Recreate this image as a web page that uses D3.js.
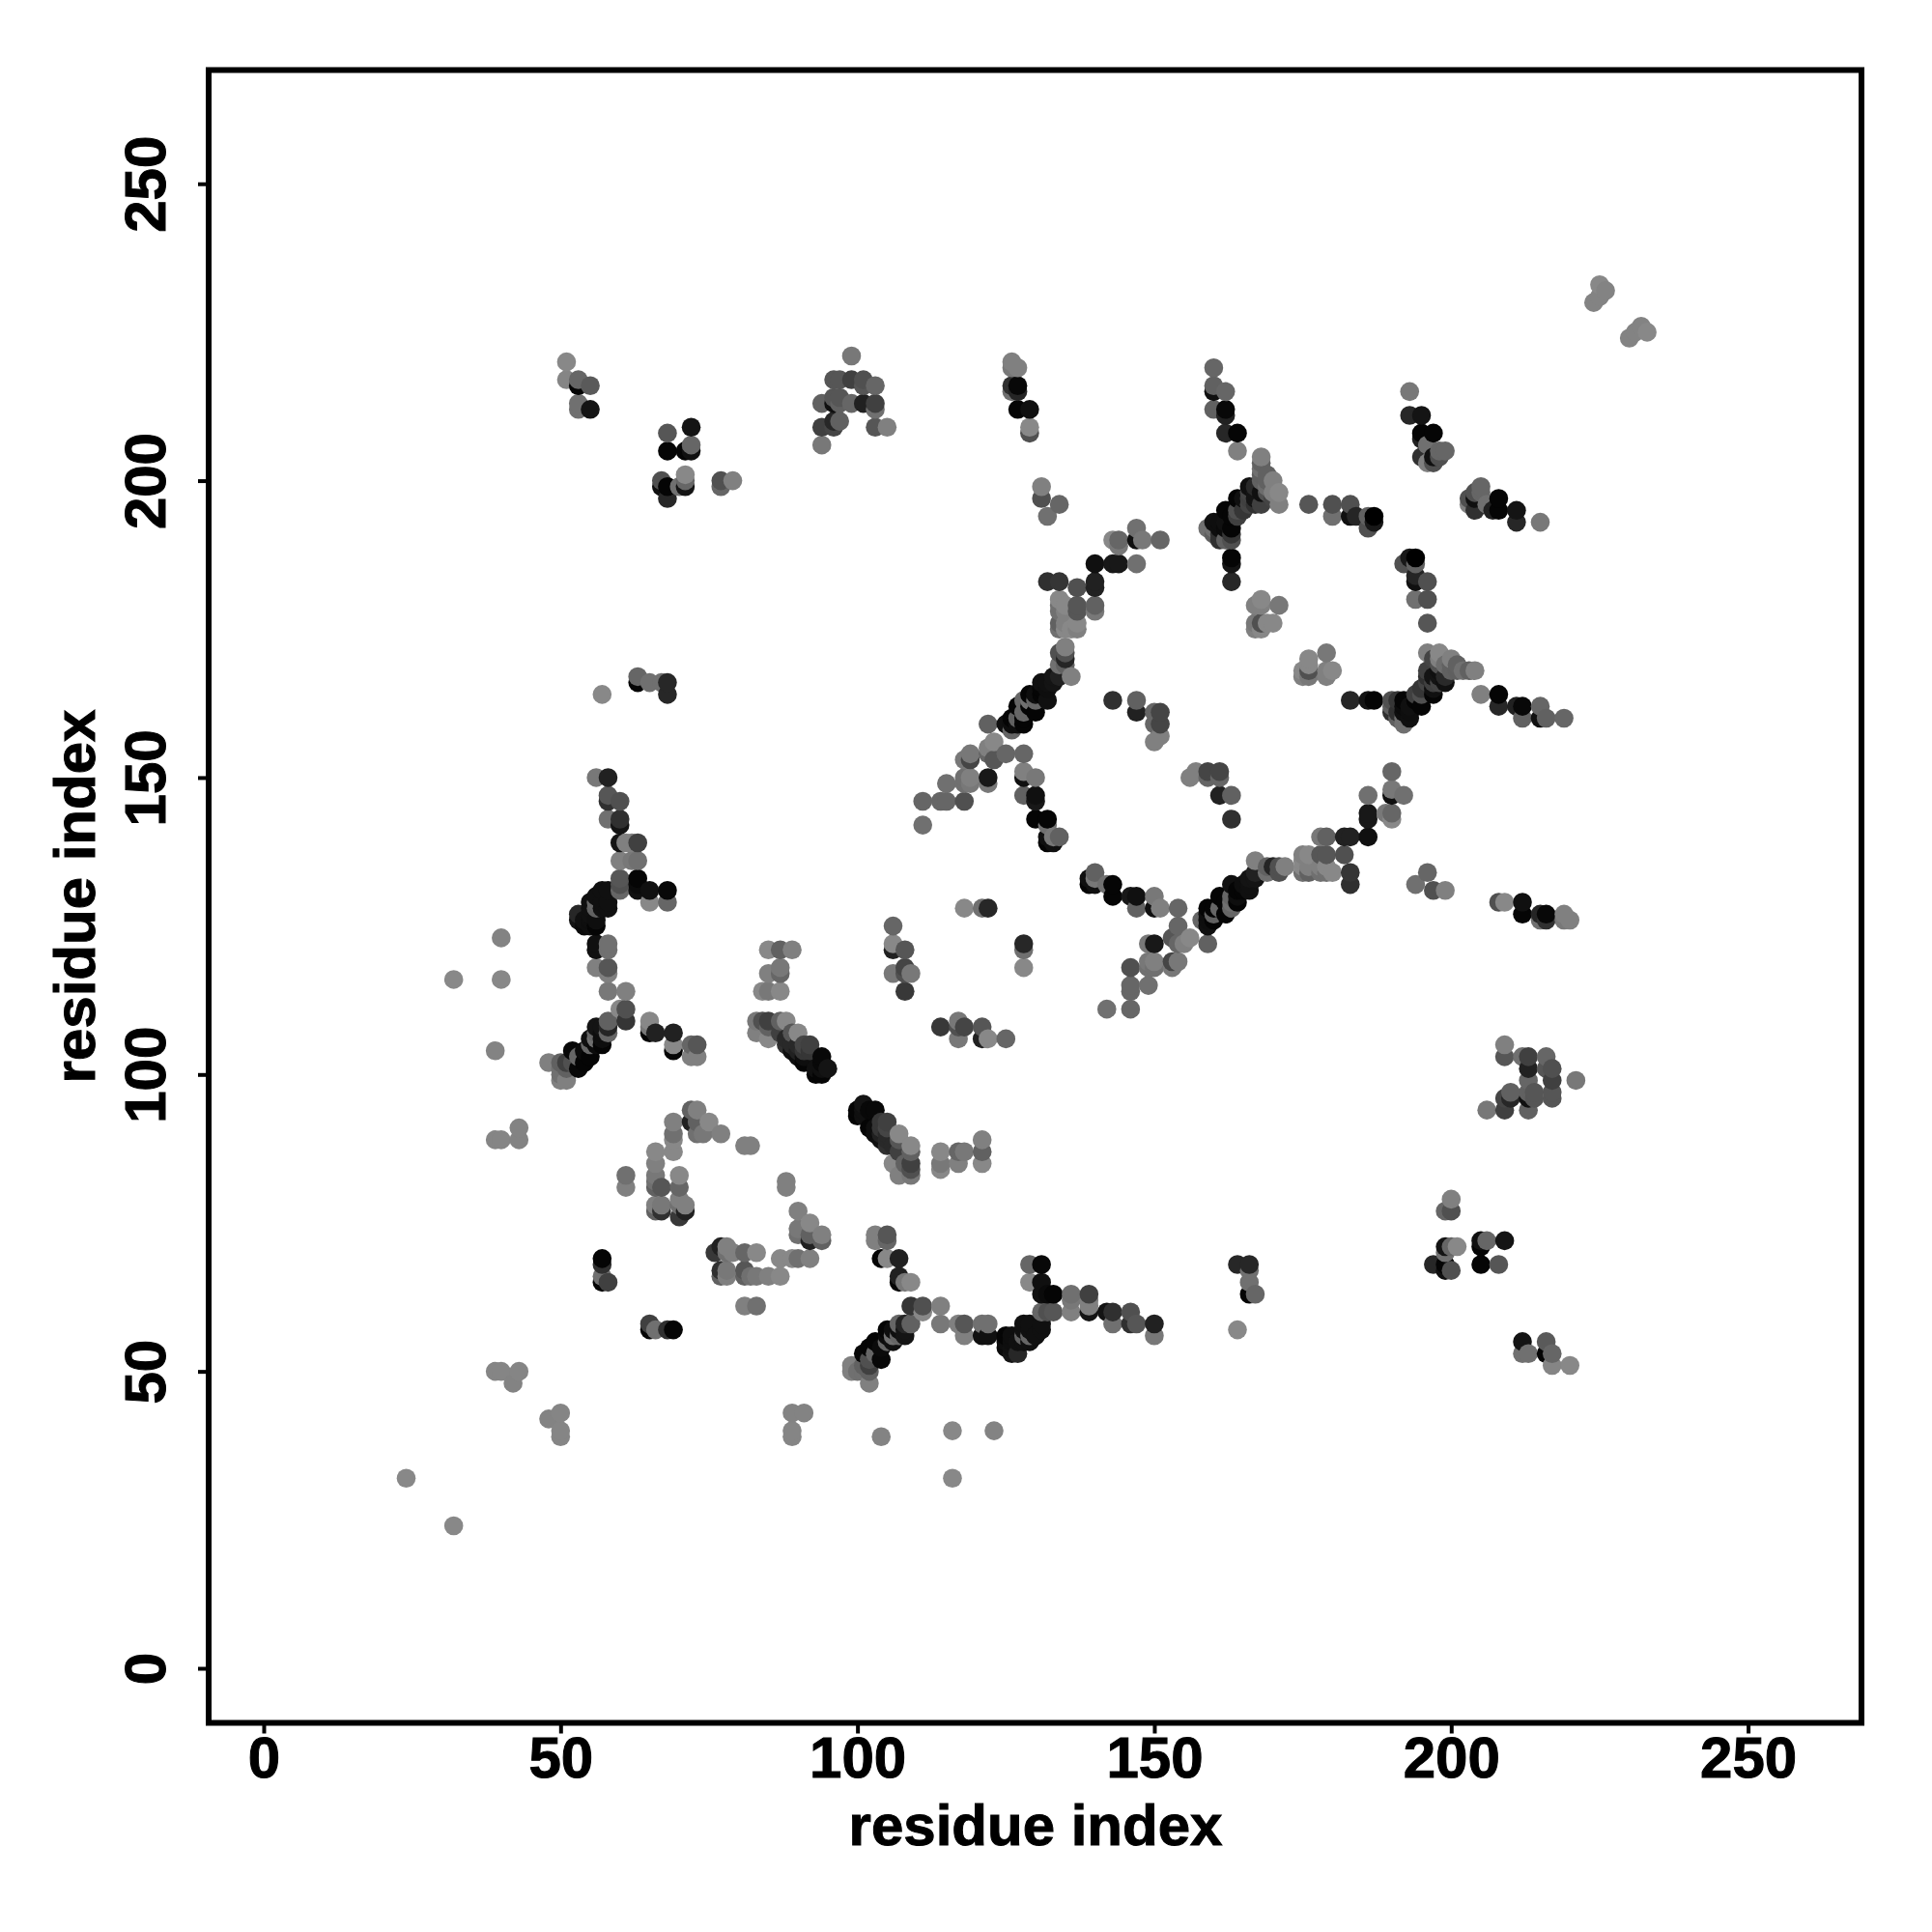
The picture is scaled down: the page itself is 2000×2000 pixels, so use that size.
<!DOCTYPE html>
<html><head><meta charset="utf-8">
<style>html,body{margin:0;background:#fff}text{font-family:"Liberation Sans",Arial,sans-serif;font-weight:700;fill:#000;stroke:#000;stroke-width:1px}</style>
<script src="https://d3js.org/d3.v7.min.js"></script></head><body><svg id="c" width="2000" height="2000"></svg>
<script>
// Contacts of the upper triangle: [residue i, residue j, score 0-100]. The map is symmetric.
const isolated=[[24,32,0],[32,116,0],[39,104,4],[40,116,0],[40,123,4],[39,89,2],[40,89,2],[43,89,4],[43,91,4],[39,50,2],[40,50,2],[43,50,2],[42,48,4],[224,230,4],[225,231,4],[225,233,0],[226,232,4]];
const clusterA=[[51,220,0],[51,217,2],[53,217,25],[53,216,96],[55,216,34],[53,213,18],[53,212,18],[55,212,85]];
const clusterB=[[68,208,37],[72,209,85],[68,205,96],[71,205,96],[72,205,88],[72,206,25],[67,200,41],[67,199,88],[68,199,96],[68,197,71],[70,199,18],[71,199,85],[71,200,25],[71,201,0],[77,200,41],[77,199,25],[79,200,6]];
const clusterC=[[105,209,6],[103,209,37],[103,212,18],[103,213,53],[103,216,25],[101,213,76],[101,216,37],[101,217,41],[99,213,25],[99,217,53],[99,221,12],[97,210,29],[96,209,49],[96,210,71],[97,213,29],[97,214,37],[96,213,88],[96,214,37],[97,217,37],[96,217,37],[94,206,12],[94,209,53],[94,213,29]];
const clusterD=[[57,164,0],[63,167,25],[63,166,96],[65,166,18],[67,166,18],[68,166,71],[68,164,71]];
const clusterE=[[126,220,6],[127,219,6],[126,219,12],[126,216,65],[127,216,94],[126,215,18],[127,215,73],[127,212,96],[129,212,88],[129,209,0],[129,208,41],[131,199,6],[131,197,41],[134,196,25],[132,194,18]];
const clusterF=[[147,192,18],[143,190,0],[144,190,25],[144,189,12],[147,190,88],[148,190,12],[151,190,25],[140,186,88],[143,186,82],[144,186,82],[147,186,18],[132,183,65],[134,183,61],[137,182,41],[140,183,76],[140,182,76],[140,179,29],[140,178,12],[137,179,37],[137,178,37],[134,180,0],[134,179,18],[134,178,18],[134,176,29],[134,175,18],[135,179,0],[135,178,6],[135,176,6],[135,175,0],[137,176,0],[137,175,6],[136,175,0]];
const chainG=[[135,172,6],[134,171,41],[135,171,41],[135,170,73],[134,169,18],[135,169,29],[136,167,6],[134,167,76],[131,166,88],[132,166,88],[131,165,96],[129,164,96],[132,163,88],[129,163,18],[127,162,96],[130,161,96],[127,160,29],[126,160,96],[125,159,88],[128,159,96],[126,158,25],[122,159,29],[123,156,0],[122,155,6],[122,154,25],[123,153,37],[125,154,25],[128,154,25],[119,154,12],[118,153,12],[119,153,49],[118,150,18],[119,150,6],[122,150,82],[122,149,12],[118,149,18],[119,149,12],[118,146,41],[115,149,18],[115,146,25],[114,146,25],[111,146,25],[111,142,18]];
const chainGBand=[[128,160,96],[129,162,96],[131,164,96],[128,161,25],[130,163,25],[133,166,85],[133,167,85],[127,159,90],[126,159,90],[128,163,25],[130,164,90],[132,165,90]];
const chainH=[[128,151,6],[130,150,12],[128,150,88],[128,147,29],[130,147,88],[130,146,82],[130,143,96],[132,143,96],[132,142,18],[132,140,88],[132,139,96],[133,139,88],[133,140,12],[134,140,29],[122,128,71],[121,128,18],[118,128,0]];
const clusterI=[[157,151,6],[156,150,6],[159,151,49],[159,150,25],[161,151,49],[161,150,25],[161,147,76],[163,147,29],[163,143,65],[150,156,6],[151,157,0],[151,159,53],[150,159,18],[151,161,53],[150,161,12],[147,163,25],[147,161,85],[143,163,65]];
const clusterJ=[[160,219,25],[160,216,29],[160,215,88],[162,215,25],[160,212,29],[162,212,94],[162,211,76],[162,208,71],[164,208,96],[164,205,6],[168,204,6],[168,203,29],[169,201,29],[170,200,6],[168,202,18],[171,198,0],[171,196,6],[168,196,53],[168,198,88],[166,197,53],[167,196,65],[176,196,37],[180,196,41],[180,194,18],[183,196,41],[183,194,88],[184,194,73],[186,194,29],[187,194,100],[187,193,82],[186,192,41],[166,199,88],[164,197,96],[162,195,96],[164,195,41],[164,194,53],[162,193,88],[160,193,88],[159,192,18],[163,192,96],[161,190,65],[163,190,41],[163,187,96],[163,186,85],[163,183,71]];
const clusterJBand=[[161,193,90],[161,192,90],[162,192,92],[163,194,96],[165,197,88],[166,198,50],[167,198,85],[167,197,85],[165,195,60],[166,196,50],[167,199,70],[168,200,29],[169,199,20],[170,198,6],[169,200,29],[169,198,40],[170,197,50],[168,201,30],[160,192,18],[160,191,30],[161,191,65],[162,190,30],[163,191,60]];
const clusterK=[[168,180,0],[167,179,6],[168,179,6],[171,179,12],[167,176,12],[168,176,41],[167,175,6],[168,175,0],[169,176,0],[170,176,0]];
const clusterL=[[199,205,25],[198,204,41],[197,203,41],[197,204,88],[196,203,6],[198,205,25],[195,204,65],[197,208,96],[195,208,96],[195,207,76],[195,211,85],[193,211,71],[193,215,12],[196,206,18]];
const chainN=[[56,150,12],[58,150,76],[58,147,37],[58,146,65],[60,146,41],[58,143,18],[60,143,65],[60,142,85],[60,139,85],[61,139,6],[62,139,6],[63,139,53],[60,136,6],[62,136,12],[63,136,18],[60,133,37],[60,132,41],[60,131,25],[63,133,96],[63,131,88],[65,131,88],[68,131,94],[65,129,0],[68,129,25],[57,131,88],[58,131,88],[58,128,88],[55,129,88],[56,128,29],[55,127,88],[53,127,71],[53,126,85],[54,125,93],[56,125,96],[56,122,88],[56,121,88],[58,122,18],[58,121,18],[56,118,6],[58,118,37],[58,117,6],[58,114,12],[61,114,6]];
const chainNBand=[[57,129,88],[57,128,88],[56,126,90],[55,125,90],[55,126,90],[54,126,88],[55,128,88],[56,130,88],[56,129,25],[58,129,88],[63,132,92]];
const chainO=[[60,111,0],[61,111,41],[61,109,61],[58,109,29],[56,108,85],[58,108,73],[58,107,25],[55,106,88],[57,105,96],[56,106,18],[52,104,94],[55,103,96],[53,101,94],[52,102,41],[51,102,53],[50,102,29],[48,102,6],[50,101,18],[51,101,29],[50,99,6],[51,99,6],[50,100,18],[65,109,0],[65,108,12],[65,107,96],[66,107,76],[69,107,76],[69,105,0],[69,104,96],[72,105,25],[73,105,37],[72,103,6],[73,103,6]];
const chainOBand=[[54,102,96],[54,104,92],[56,105,92],[57,107,90],[57,106,90],[53,103,25],[55,105,25],[56,107,25],[57,108,85]];
const clusterP=[[85,121,0],[87,121,29],[89,121,6],[85,117,6],[87,118,12],[87,117,25],[84,114,0],[85,114,12],[87,114,0]];
const chainQ=[[83,109,12],[84,109,41],[85,109,53],[87,109,29],[88,109,0],[83,107,6],[85,106,0],[85,108,29],[87,107,53],[89,107,37],[90,107,0],[89,104,88],[91,105,49],[92,105,53],[94,103,94],[91,102,96],[95,101,85],[93,100,96],[94,100,96],[88,105,65],[90,104,76]];
const chainQBand=[[90,103,90],[91,103,90],[93,101,88],[94,101,88],[94,102,94],[90,105,70],[89,105,70],[88,106,70],[91,104,60],[92,104,60]];
const clusterR=[[106,125,25],[106,122,0],[106,121,76],[108,121,37],[106,117,12],[108,118,49],[108,117,41],[109,117,12],[108,114,59]];
const arcS=[[72,94,29],[73,94,6],[72,92,76],[75,92,0],[73,92,29],[73,90,18],[74,90,12],[77,90,6],[81,88,6],[82,88,6],[69,92,6],[69,90,18],[69,89,0],[69,87,0],[66,87,0],[66,85,6],[66,83,12],[66,82,18],[66,81,29],[67,81,37],[70,83,0],[70,81,25],[61,83,18],[61,81,6],[66,78,6],[67,78,12],[66,77,29],[67,77,65],[70,79,6],[70,78,18],[70,76,59],[71,78,6],[71,77,76],[57,69,96],[57,68,65],[57,66,18],[57,65,96],[58,65,53]];

const tickValues=[0,50,100,150,200,250];
const axisTitle="residue index";

const upper=[].concat(isolated,clusterA,clusterB,clusterC,clusterD,clusterE,clusterF,chainG,chainGBand,chainH,clusterI,clusterJ,clusterJBand,clusterK,clusterL,chainN,chainNBand,chainO,chainOBand,clusterP,chainQ,chainQBand,clusterR,arcS);
const seen=new Set();
const all=[];
upper.forEach(([i,j,s])=>{
  [[i,j],[j,i]].forEach(([a,b])=>{const k=a+","+b;if(!seen.has(k)){seen.add(k);all.push({x:a,y:b,s});}});
});
all.sort((p,q)=>d3.ascending(p.x,q.x)||d3.ascending(p.y,q.y));

const svg=d3.select("#c");
const x=d3.scaleLinear().domain([-9.27,269.1]).range([216,1927]);
const y=d3.scaleLinear().domain([-9.19,269.15]).range([1783.5,72.5]);
const grey=d3.scaleLinear().domain([0,100]).range([136,0]);

svg.append("g").selectAll("circle").data(all).join("circle")
  .attr("cx",d=>x(d.x)).attr("cy",d=>y(d.y)).attr("r",9.8)
  .attr("fill",d=>{const g=Math.round(grey(d.s));return `rgb(${g},${g},${g})`;});

svg.append("rect").attr("x",216).attr("y",72.5).attr("width",1711).attr("height",1711)
  .attr("fill","none").attr("stroke","#000").attr("stroke-width",6);

const ax=svg.append("g").attr("transform","translate(0,1783.5)").call(d3.axisBottom(x).tickValues(tickValues).tickSize(11).tickPadding(0));
ax.select(".domain").remove();
ax.selectAll("line").attr("stroke","#000").attr("stroke-width",4);
ax.selectAll("text").attr("y",0).attr("dy",0).attr("transform","translate(0,56)").style("font-size","60px").attr("text-anchor","middle");

const ay=svg.append("g").attr("transform","translate(216,0)").call(d3.axisLeft(y).tickValues(tickValues).tickSize(11).tickPadding(0));
ay.select(".domain").remove();
ay.selectAll("line").attr("stroke","#000").attr("stroke-width",4);
ay.selectAll("text").attr("x",0).attr("dy",0).attr("transform","translate(-45,0) rotate(-90)").style("font-size","60px").attr("text-anchor","middle");

svg.append("text").attr("x",1072).attr("y",1910).attr("text-anchor","middle").style("font-size","60px").text(axisTitle);
svg.append("text").attr("transform","translate(98,928) rotate(-90)").attr("text-anchor","middle").style("font-size","60px").text(axisTitle);
</script></body></html>
